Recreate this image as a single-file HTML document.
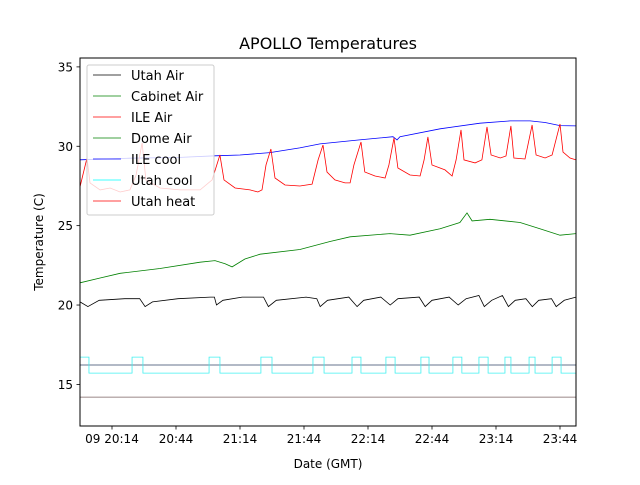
<!DOCTYPE html>
<html><head><meta charset="utf-8"><style>
body{margin:0;background:#fff;}
svg text{font-family:"DejaVu Sans","Liberation Sans",sans-serif;}
</style></head><body>
<svg id="chart" width="640" height="480" xmlns="http://www.w3.org/2000/svg">
<rect width="640" height="480" fill="#fff"/>
<text x="328" y="49" font-size="16" text-anchor="middle">APOLLO Temperatures</text>
<g id="plot"></g>
</svg>
<script>
const xTickLabels=["09 20:14","20:44","21:14","21:44","22:14","22:44","23:14","23:44"];
const xTickMinutes=[14,44,74,104,134,164,194,224];
const yTicks=[15,20,25,30,35];
const iceCoolT=[-1,22.4,45.9,62.3,74,88,102,111.5,130,145.7,147.6,149,167.8,186.5,200.6,210,217,224,231.5];
const iceCoolV=[29.15,29.25,29.3,29.4,29.45,29.6,29.9,30.15,30.4,30.6,30.4,30.6,31.1,31.45,31.6,31.6,31.5,31.3,31.28];
const ileAirT=[-1,0.9,2.3,3.7,8.4,13.1,17.8,22.4,25.3,28.1,29.9,36.5,45.9,55.3,60.9,64.6,66.5,71.7,78.7,82.4,84.3,86.2,88.5,90.4,95.1,102.1,107.8,110.6,112.9,114.8,118.5,123.2,125.6,127.4,130.7,132.5,137.3,142,143.8,146.2,148,153.7,158.4,160.3,162.1,164,170.1,173.4,175.3,177.6,179,184.2,187.4,189.8,191.7,196,198.7,201,202.4,207.6,210.9,212.8,217,220.3,224,225.4,228.7,231.5];
const ileAirV=[27.44,28.51,29.26,27.69,27.25,27.37,27.12,27.25,28.19,30.21,27.88,27.37,27.25,27.25,27.88,29.45,27.88,27.37,27.25,27.12,27.25,28.82,29.83,28.0,27.56,27.5,27.62,29.14,30.08,28.38,27.88,27.69,27.69,28.82,30.27,28.38,28.13,28.0,28.82,30.52,28.63,28.19,28.13,29.14,30.59,28.82,28.51,28.13,29.14,31.03,29.14,28.95,29.14,31.22,29.45,29.26,29.39,31.28,29.26,29.2,31.34,29.45,29.26,29.45,31.4,29.64,29.26,29.14];
const cabT=[-1,8.4,17.8,36.5,55.3,62.3,67,70.3,76.3,83.4,102.1,116.2,125.6,144.3,153.7,167.8,177.1,180.4,182.8,191.2,205.3,214.6,224,231.5];
const cabV=[21.4,21.7,22.0,22.3,22.7,22.8,22.6,22.4,22.9,23.2,23.5,24.0,24.3,24.5,24.4,24.8,25.2,25.8,25.3,25.4,25.2,24.8,24.4,24.5];
const utahAirT=[-1,2.7,8,20,27,29.5,33,45,60,62,63,66,75,85,87.3,91,105,110,111.6,115,125,128.9,132,140,144.4,148,158,160.8,164,172,176.3,180,186,188.5,192,197,199.8,203,208,211,214,220,222.2,226,231.5];
const utahAirV=[20.2,19.9,20.3,20.4,20.4,19.9,20.2,20.4,20.5,20.5,20.0,20.3,20.5,20.5,19.9,20.3,20.5,20.4,19.9,20.3,20.5,19.9,20.3,20.5,20.0,20.4,20.5,19.9,20.3,20.5,20.0,20.4,20.6,19.9,20.3,20.6,19.9,20.3,20.4,19.9,20.3,20.4,19.9,20.3,20.5];
const coolOn=[-1,23.4,59.5,83.8,108.2,126.5,142.4,158.8,173.8,186,198.2,209.5,220.3];
const coolOff=[3.2,28.5,64.6,89,113.4,130.7,146.7,162.6,178,190.3,201,212.3,224.5];
const coolHigh=16.72, coolLow=15.71;
const domeV=16.22;
const heatV=14.2;
const legendLabels=["Utah Air","Cabinet Air","ILE Air","Dome Air","ILE cool","Utah cool","Utah heat"];
const legendColors=["#000","#008000","#ff0000","#008000","#0000ff","#00ffff","#ff0000"];

const L=80,R=576,T=58,B=426,tMin=-1,tMax=231.5,vMin=12.38,vMax=35.56;
const xs=t=>L+(t-tMin)/(tMax-tMin)*(R-L);
const ys=v=>B-(v-vMin)/(vMax-vMin)*(B-T);
const NS="http://www.w3.org/2000/svg";
const g=document.getElementById('plot');
function mk(tag,attrs){const e=document.createElementNS(NS,tag);for(const k in attrs)e.setAttribute(k,attrs[k]);g.appendChild(e);return e;}
function line(tArr,vArr,color,name){
  const d=tArr.map((t,i)=>(i?'L':'M')+xs(t).toFixed(1)+','+ys(vArr[i]).toFixed(1)).join('');
  const p=mk('path',{d:d,fill:'none',stroke:color,'stroke-width':0.8});
  
  
}
// horizontal constant lines
line([tMin,tMax],[heatV,heatV],'#7a6060','utah-heat-line');
line([tMin,tMax],[domeV,domeV],'#334466','dome-air-line');
// cool step
let cd='';
coolOn.forEach((on,i)=>{
  const x1=xs(Math.max(on,tMin)),x2=xs(coolOff[i]);
  if(i===0){cd+='M'+x1+','+ys(coolHigh);}else{cd+='L'+x1+','+ys(coolLow)+'L'+x1+','+ys(coolHigh);}
  cd+='L'+x2+','+ys(coolHigh)+'L'+x2+','+ys(coolLow);
});
cd+='L'+xs(tMax)+','+ys(coolLow);
const cp=mk('path',{d:cd,fill:'none',stroke:'#40f0f0','stroke-width':0.8});


line(utahAirT,utahAirV,'#000','utah-air-line');
line(cabT,cabV,'#008000','cabinet-air-line');
line(iceCoolT,iceCoolV,'#0000ff','ile-cool-line');
line(ileAirT,ileAirV,'#ff0000','ile-air-line');
// frame
const fr=mk('rect',{x:L,y:T,width:R-L,height:B-T,fill:'none',stroke:'#000','stroke-width':1});


// ticks
xTickMinutes.forEach((m,i)=>{
  const x=xs(m);
  mk('line',{x1:x,x2:x,y1:B,y2:B+3.5,stroke:'#000','stroke-width':0.8});
  const tx=mk('text',{x:x,y:B+17,'font-size':12,'text-anchor':'middle'});
  tx.textContent=xTickLabels[i];
  
  
});
yTicks.forEach(v=>{
  const y=ys(v);
  mk('line',{x1:L-3.5,x2:L,y1:y,y2:y,stroke:'#000','stroke-width':0.8});
  const tx=mk('text',{x:L-7,y:y+4.5,'font-size':12,'text-anchor':'end'});
  tx.textContent=v;
  
  
});
const xl=mk('text',{x:328,y:468,'font-size':12,'text-anchor':'middle'});
xl.textContent='Date (GMT)';


const yl=mk('text',{x:0,y:0,'font-size':12,'text-anchor':'middle',transform:'translate(43,242) rotate(-90)'});
yl.textContent='Temperature (C)';


// legend
const lb=mk('rect',{x:87,y:65,width:127,height:150,rx:2,fill:'#fff','fill-opacity':0.8,stroke:'#ccc','stroke-width':1});


legendLabels.forEach((lab,i)=>{
  const y=75+i*21;
  mk('line',{x1:93,x2:121,y1:y,y2:y,stroke:legendColors[i],'stroke-width':0.8});
  const tx=mk('text',{x:131,y:y+5,'font-size':13});
  tx.textContent=lab;
  
  
});
</script>
</body></html>
